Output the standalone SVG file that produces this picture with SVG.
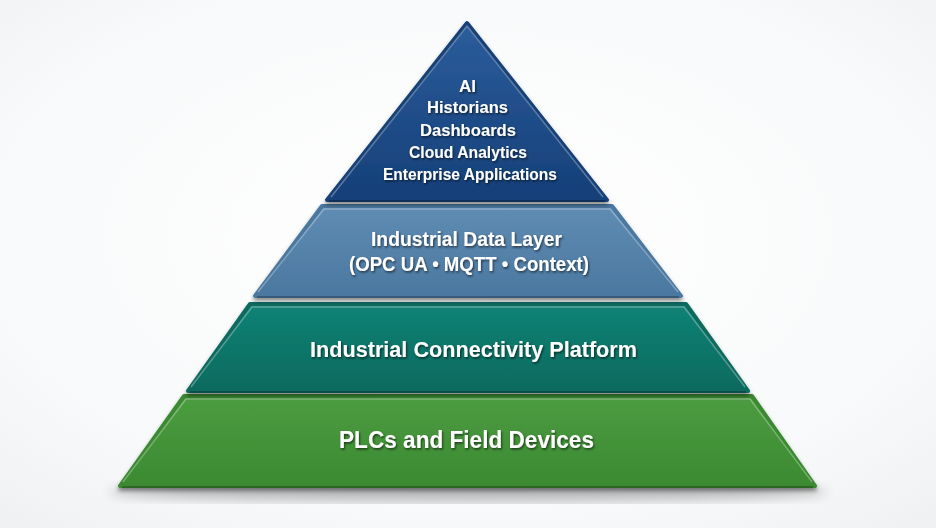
<svg xmlns="http://www.w3.org/2000/svg" width="936" height="528" viewBox="0 0 936 528">
<defs>
<radialGradient id="bg" cx="50%" cy="45%" r="75%">
<stop offset="0" stop-color="#ffffff"/>
<stop offset="0.7" stop-color="#f8f9fa"/>
<stop offset="1" stop-color="#eef0f1"/>
</radialGradient>
<linearGradient id="g1" x1="0" y1="0" x2="0" y2="1">
<stop offset="0" stop-color="#2b5d9b"/>
<stop offset="1" stop-color="#153f78"/>
</linearGradient>
<linearGradient id="g2" x1="0" y1="0" x2="0" y2="1">
<stop offset="0" stop-color="#5f8cb3"/>
<stop offset="1" stop-color="#4b78a0"/>
</linearGradient>
<linearGradient id="g3" x1="0" y1="0" x2="0" y2="1">
<stop offset="0" stop-color="#128276"/>
<stop offset="1" stop-color="#0a6a5e"/>
</linearGradient>
<linearGradient id="g4" x1="0" y1="0" x2="0" y2="1">
<stop offset="0" stop-color="#4c9c40"/>
<stop offset="1" stop-color="#3b8a32"/>
</linearGradient>
<filter id="sh" x="-10%" y="-10%" width="120%" height="130%">
<feDropShadow dx="0" dy="3" stdDeviation="2" flood-color="#000" flood-opacity="0.45"/>
</filter>
<filter id="ts" x="-10%" y="-30%" width="120%" height="160%">
<feDropShadow dx="1" dy="1.5" stdDeviation="1" flood-color="#000" flood-opacity="0.6"/>
</filter>
<filter id="blur"><feGaussianBlur stdDeviation="6"/></filter>
<style>
.t{font-family:"Liberation Sans",Arial,sans-serif;font-weight:bold;fill:#ffffff;text-anchor:middle;}
.hl{fill:none;stroke:#ffffff;stroke-opacity:0.3;stroke-width:1.5;stroke-linejoin:round;}
.dk{fill:none;stroke:#000000;stroke-opacity:0.25;stroke-width:2;}
</style>
</defs>
<rect width="936" height="528" fill="url(#bg)"/>
<ellipse cx="468" cy="492" rx="360" ry="10" fill="#000" opacity="0.25" filter="url(#blur)"/>
<g id="connectors"/>
<g id="layer-devices">
<polygon points="184,396 752,396 815,486 120,486" fill="url(#g4)" stroke="#3b8a32" stroke-width="4" stroke-linejoin="round" filter="url(#sh)"/>
<polyline class="hl" points="123,482 186,399 750,399 812,482"/>
<line class="dk" x1="122" y1="487" x2="813" y2="487"/>
<text class="t" x="466.5" y="448" font-size="24" textLength="255" lengthAdjust="spacingAndGlyphs" filter="url(#ts)">PLCs and Field Devices</text>
</g>
<g id="layer-connectivity">
<polygon points="250,304 686,304 748,391 188,391" fill="url(#g3)" stroke="#0a6a5e" stroke-width="4" stroke-linejoin="round" filter="url(#sh)"/>
<polyline class="hl" points="191,387 252,307 684,307 745,387"/>
<line class="dk" x1="190" y1="392" x2="746" y2="392"/>
<text class="t" x="473.5" y="357" font-size="22" textLength="327" lengthAdjust="spacingAndGlyphs" filter="url(#ts)">Industrial Connectivity Platform</text>
</g>
<g id="layer-data">
<polygon points="322,206 612,206 681,296 255,296" fill="url(#g2)" stroke="#4b78a0" stroke-width="4" stroke-linejoin="round" filter="url(#sh)"/>
<polyline class="hl" points="258,292 324,209 610,209 678,292"/>
<line class="dk" x1="257" y1="297" x2="679" y2="297"/>
<text class="t" x="466.5" y="246" font-size="19.5" textLength="191" lengthAdjust="spacingAndGlyphs" filter="url(#ts)">Industrial Data Layer</text>
<text class="t" x="469" y="271" font-size="19.5" textLength="240" lengthAdjust="spacingAndGlyphs" filter="url(#ts)">(OPC UA • MQTT • Context)</text>
</g>
<g id="layer-apps">
<polygon points="467,23 607,200 327,200" fill="url(#g1)" stroke="#153f78" stroke-width="4" stroke-linejoin="round" filter="url(#sh)"/>
<polyline class="hl" points="331,197 467,26 603,197"/>
<line class="dk" x1="329" y1="201" x2="605" y2="201"/>
<text class="t" x="467.5" y="92" font-size="17" textLength="17" lengthAdjust="spacingAndGlyphs" filter="url(#ts)">AI</text>
<text class="t" x="467.5" y="113" font-size="17" textLength="81" lengthAdjust="spacingAndGlyphs" filter="url(#ts)">Historians</text>
<text class="t" x="468" y="136" font-size="17" textLength="96" lengthAdjust="spacingAndGlyphs" filter="url(#ts)">Dashboards</text>
<text class="t" x="468" y="158" font-size="17" textLength="118" lengthAdjust="spacingAndGlyphs" filter="url(#ts)">Cloud Analytics</text>
<text class="t" x="470" y="180" font-size="17" textLength="174" lengthAdjust="spacingAndGlyphs" filter="url(#ts)">Enterprise Applications</text>
</g>
</svg>
